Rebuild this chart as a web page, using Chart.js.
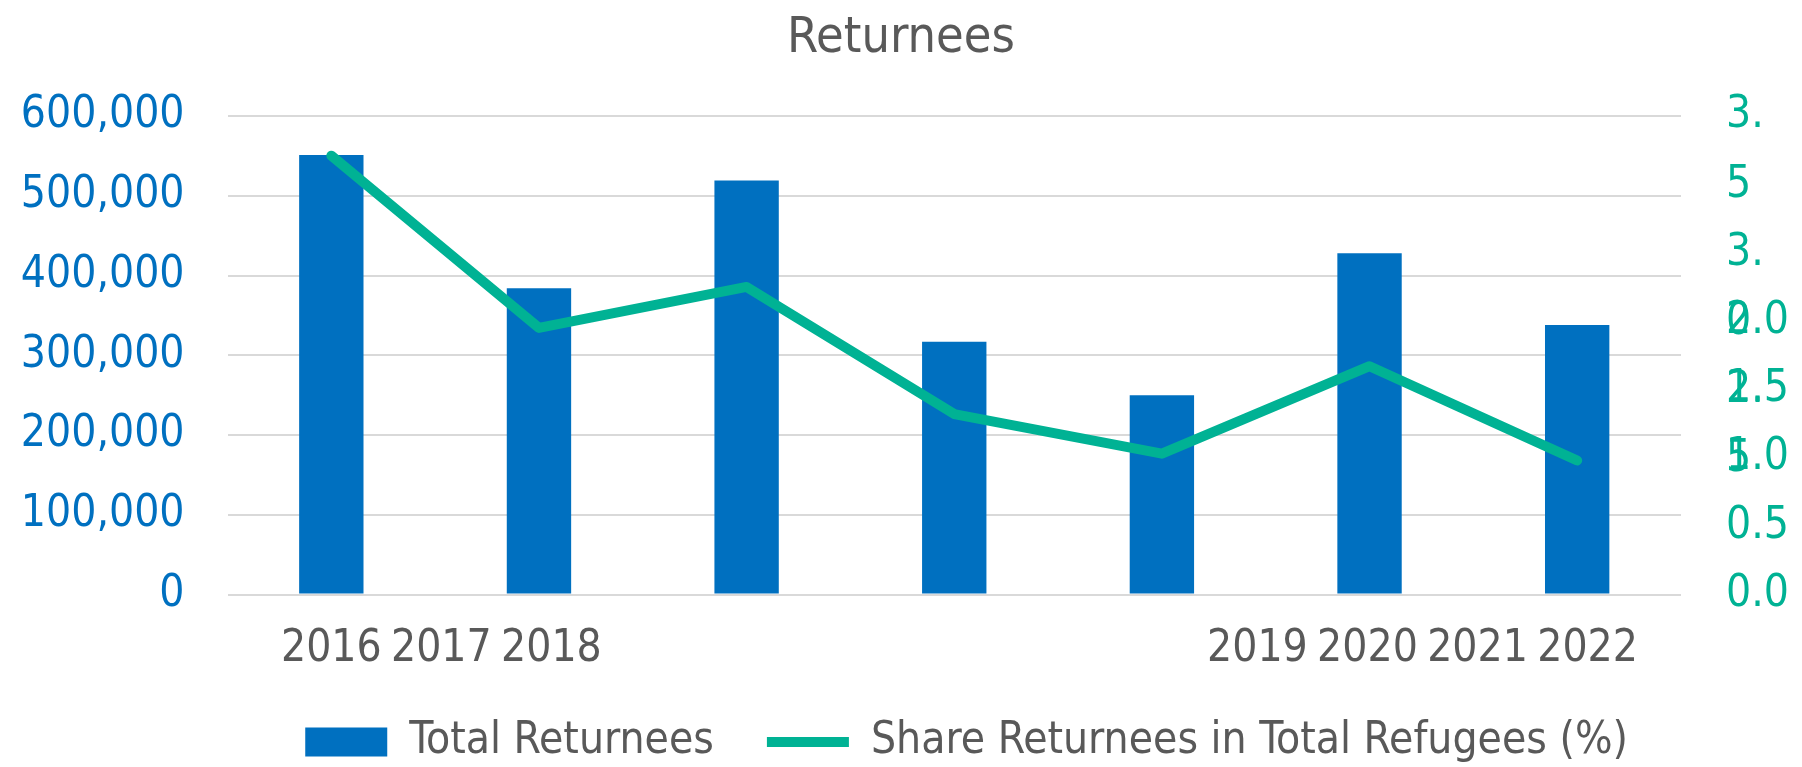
<!DOCTYPE html>
<html>
<head>
<meta charset="utf-8">
<script src="https://cdn.jsdelivr.net/npm/chart.js@4/dist/chart.umd.min.js"></script>
<style>
	html, body { margin: 0; padding: 0; background: #fff; }
	#wrap { width: 1802px; height: 767px; }
</style>
</head>
<body>
<div id="wrap"><canvas id="chart"></canvas></div>
<script>
const years = ['2016', '2017', '2018', '2019', '2020', '2021', '2022'];
const totalReturnees = [551000, 384000, 519000, 317000, 250000, 428000, 338000];
const shareReturnees = [3.21, 1.95, 2.25, 1.32, 1.03, 1.67, 0.98];

// the year labels sit in two clumps, not under the bars (category units, bar i is at i + 0.5)
const yearLabelAt = [0.50, 1.03, 1.56, 4.96, 5.49, 6.02, 6.55];

// right axis labels that got wrapped in two lines and slid down
const wrappedShareTicks = {
	'3.5': ['', '3.', '5'],
	'3': ['', '', '', '3.', '0'],
	'2.5': ['', '', '', '', '', '2.', '5']
};

const BLUE = '#0070C0';
const TEAL = '#00B294';
const GREY = '#595959';

Chart.defaults.font.family = '"DejaVu Sans Condensed", "Liberation Sans", sans-serif';

// keep tick label overhang from pushing the plot area around
function noOverhang(scale){
	scale.paddingTop = 0;
	scale.paddingBottom = 0;
	scale.paddingLeft = 0;
	scale.paddingRight = 0;
}

const ctx = document.getElementById('chart').getContext('2d');

new Chart(ctx, {
	type: 'bar',
	data: {
		labels: years,
		datasets: [
			{
				type: 'bar',
				label: 'Total Returnees',
				data: totalReturnees,
				backgroundColor: BLUE,
				yAxisID: 'y',
				barPercentage: 0.31,
				categoryPercentage: 1,
				pointStyle: 'rect',
				order: 1
			},
			{
				type: 'line',
				label: 'Share Returnees in Total Refugees (%)',
				data: shareReturnees,
				borderColor: TEAL,
				backgroundColor: TEAL,
				borderWidth: 10,
				borderCapStyle: 'round',
				borderJoinStyle: 'round',
				pointRadius: 0,
				pointStyle: 'line',
				tension: 0,
				yAxisID: 'y1',
				order: 0
			}
		]
	},
	options: {
		responsive: true,
		maintainAspectRatio: false,
		animation: false,
		layout: {
			padding: { bottom: -7 }
		},
		plugins: {
			title: {
				display: true,
				text: 'Returnees',
				color: GREY,
				font: { size: 50, weight: 'normal' },
				padding: { top: 9, bottom: 47 }
			},
			legend: {
				position: 'bottom',
				fullSize: false,
				align: 'end',
				labels: {
					usePointStyle: true,
					pointStyleWidth: 82,
					boxHeight: 29,
					padding: 53,
					color: GREY,
					font: { size: 44 },
					sort: (a, b) => a.datasetIndex - b.datasetIndex
				}
			},
			tooltip: { enabled: false }
		},
		scales: {
			x: {
				display: false
			},
			yr: {
				type: 'linear',
				axis: 'x',
				position: 'bottom',
				offset: false,
				min: 0,
				max: 7,
				grid: { display: false, drawTicks: false },
				border: { display: false },
				ticks: {
					autoSkip: false,
					maxRotation: 0,
					padding: 29,
					color: GREY,
					font: { size: 44 },
					callback: (v, i) => years[i]
				},
				afterBuildTicks: scale => {
					scale.ticks = yearLabelAt.map(v => ({ value: v }));
				},
				afterFit: scale => {
					noOverhang(scale);
					scale.height = 72.5;
				}
			},
			y: {
				type: 'linear',
				position: 'left',
				min: 0,
				max: 600000,
				grid: { color: '#D9D9D9', lineWidth: 2, drawTicks: false },
				border: { display: false },
				ticks: {
					stepSize: 100000,
					padding: 43,
					color: BLUE,
					font: { size: 44 },
					callback: v => v.toLocaleString('en-US')
				},
				afterFit: scale => {
					noOverhang(scale);
					scale.width = 227.5;
				}
			},
			y1: {
				type: 'linear',
				position: 'right',
				min: 0,
				max: 3.5,
				grid: { display: false, drawTicks: false },
				border: { display: false },
				ticks: {
					stepSize: 0.5,
					autoSkip: false,
					padding: 45,
					color: TEAL,
					font: { size: 44, lineHeight: 1.57 },
					callback: v => wrappedShareTicks[String(v)] || v.toFixed(1)
				},
				afterFit: scale => {
					noOverhang(scale);
					scale.width = 121;
				}
			}
		}
	}
});
</script>
</body>
</html>
